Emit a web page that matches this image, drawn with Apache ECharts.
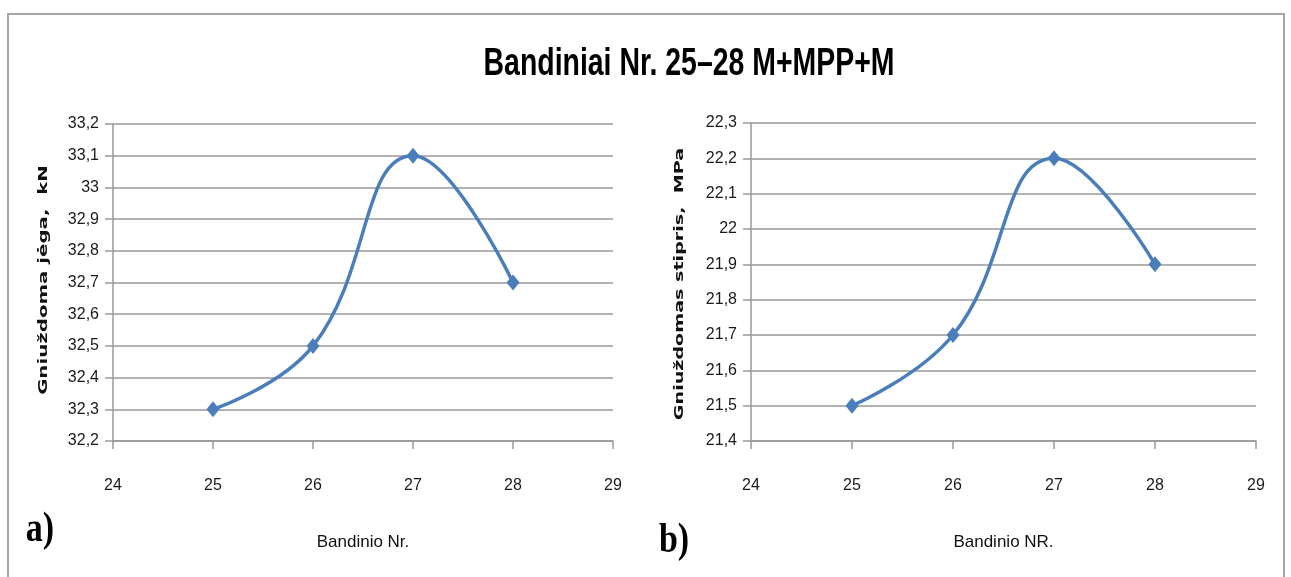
<!DOCTYPE html>
<html>
<head>
<meta charset="utf-8">
<script src="https://cdn.jsdelivr.net/npm/echarts@6/dist/echarts.min.js"></script>
<style>
html,body{margin:0;padding:0;background:#fff;}
#c{width:1291px;height:577px;}
</style>
</head>
<body>
<div id="c"></div>
<script>
// ---- data ----
const chartTitle = 'Bandiniai Nr. 25–28 M+MPP+M';
const sampleNumbers = [25, 26, 27, 28];
const forceValues = [32.3, 32.5, 33.1, 32.7];      // Gniuždoma jėga, kN
const strengthValues = [21.5, 21.7, 22.2, 21.9];   // Gniuždomas stipris, MPa
const xAxisRange = [24, 29];
const forceAxisRange = [32.2, 33.2];
const strengthAxisRange = [21.4, 22.3];
const xAxisNames = ['Bandinio Nr.', 'Bandinio NR.'];
const yAxisNames = ['Gniuždoma jėga,  kN', 'Gniuždomas stipris,  MPa'];
const panelLabels = ['a)', 'b)'];

const chart = echarts.init(document.getElementById('c'), null, {renderer: 'canvas'});

const sans = '"Liberation Sans", Arial, sans-serif';
const gridColor = '#999999';
const lineColor = '#4A7EBB';

function fmt(v) {
  return String(Number(v.toFixed(1))).replace('.', ',');
}

function xAxisCfg(gridIndex, name) {
  return {
    type: 'value', gridIndex: gridIndex,
    min: xAxisRange[0], max: xAxisRange[1], interval: 1,
    name: name, nameLocation: 'middle', nameGap: 93,
    nameTextStyle: {fontFamily: sans, fontSize: 17, color: '#111'},
    axisLine: {show: true, lineStyle: {color: gridColor, width: 1.5}},
    axisTick: {show: true, length: 8, lineStyle: {color: gridColor, width: 1.5}},
    axisLabel: {fontFamily: sans, fontSize: 16, color: '#1a1a1a', margin: 37},
    splitLine: {show: false}
  };
}
function yAxisCfg(gridIndex, range) {
  return {
    type: 'value', gridIndex: gridIndex,
    min: range[0], max: range[1], interval: 0.1,
    axisLine: {show: true, lineStyle: {color: gridColor, width: 1.5}},
    axisTick: {show: true, length: 8, lineStyle: {color: gridColor, width: 1.5}},
    axisLabel: {fontFamily: sans, fontSize: 16, color: '#1a1a1a', margin: 14, formatter: fmt},
    splitLine: {show: true, lineStyle: {color: gridColor, width: 1.5}}
  };
}
function seriesCfg(idx, values) {
  return {
    type: 'line', xAxisIndex: idx, yAxisIndex: idx,
    data: sampleNumbers.map((x, i) => [x, values[i]]),
    smooth: 0.45,
    symbol: 'diamond', symbolSize: [13, 16],
    itemStyle: {color: lineColor},
    lineStyle: {color: lineColor, width: 3.5},
    animation: false
  };
}

const option = {
  backgroundColor: '#ffffff',
  animation: false,
  grid: [
    {left: 113, right: 678, top: 124, bottom: 136},
    {left: 751, right: 35, top: 123, bottom: 136}
  ],
  xAxis: [xAxisCfg(0, xAxisNames[0]), xAxisCfg(1, xAxisNames[1])],
  yAxis: [yAxisCfg(0, forceAxisRange), yAxisCfg(1, strengthAxisRange)],
  series: [seriesCfg(0, forceValues), seriesCfg(1, strengthValues)],
  graphic: [
    {type: 'rect', shape: {x: 8, y: 14, width: 1276, height: 600}, style: {fill: 'none', stroke: '#a6a6a6', lineWidth: 2}, z: 0},
    {type: 'text', x: 689, y: 64, scaleX: 0.79, scaleY: 1.08,
      style: {text: chartTitle, font: 'bold 36px ' + sans, fill: '#000', textAlign: 'center', textVerticalAlign: 'middle'}},
    {type: 'text', x: 44, y: 280, rotation: Math.PI / 2, scaleX: 1.52,
      style: {text: yAxisNames[0], font: 'bold 13px "DejaVu Sans", sans-serif', fill: '#111', textAlign: 'center', textVerticalAlign: 'middle'}},
    {type: 'text', x: 680, y: 284, rotation: Math.PI / 2, scaleX: 1.47,
      style: {text: yAxisNames[1], font: 'bold 13px "DejaVu Sans", sans-serif', fill: '#111', textAlign: 'center', textVerticalAlign: 'middle'}},
    {type: 'text', x: 40, y: 530, scaleY: 1.25,
      style: {text: panelLabels[0], font: 'bold 34px "Liberation Serif", serif', fill: '#000', textAlign: 'center', textVerticalAlign: 'middle'}},
    {type: 'text', x: 674, y: 541, scaleY: 1.25,
      style: {text: panelLabels[1], font: 'bold 34px "Liberation Serif", serif', fill: '#000', textAlign: 'center', textVerticalAlign: 'middle'}}
  ]
};
chart.setOption(option);
</script>
</body>
</html>
